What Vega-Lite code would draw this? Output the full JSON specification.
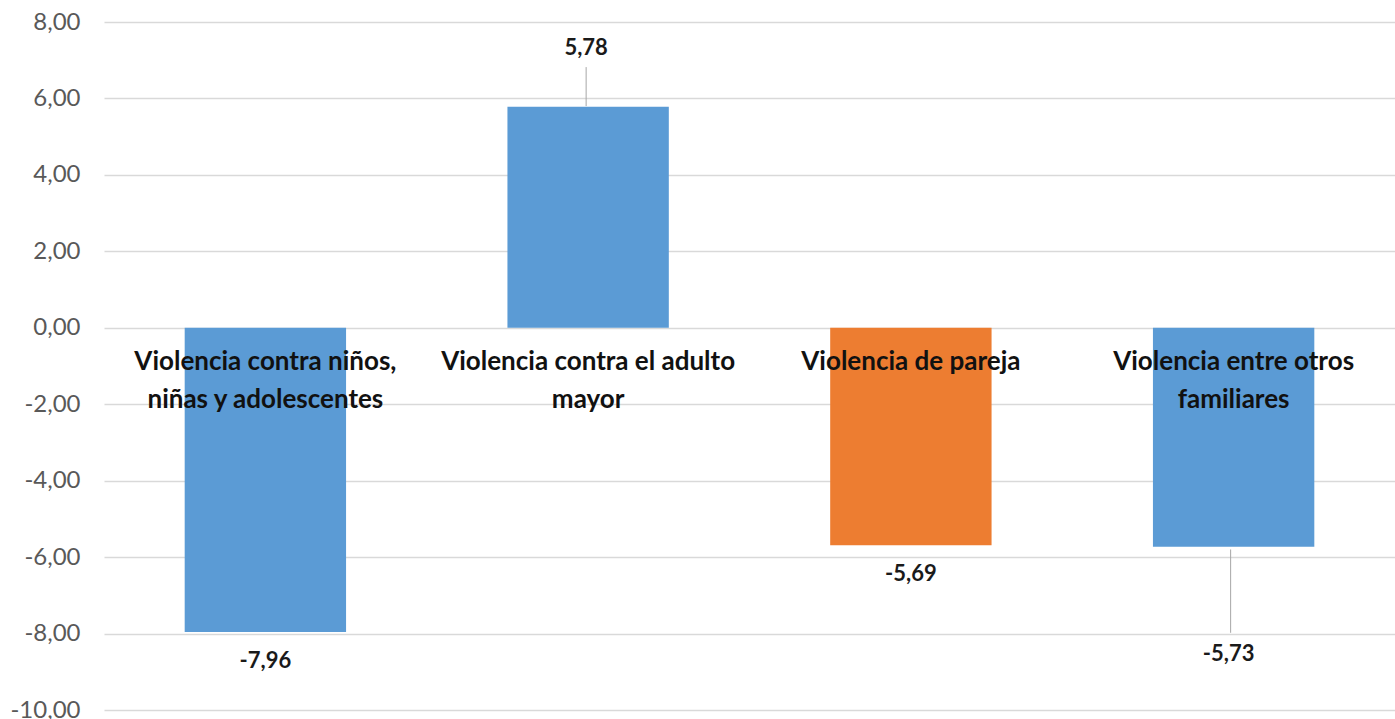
{
  "$schema": "https://vega.github.io/schema/vega-lite/v6.json",
  "autosize": {"type": "none"},
  "padding": {"left": 104, "top": 22, "right": 0, "bottom": 9},
  "width": 1291,
  "height": 688,
  "background": "#ffffff",
  "config": {
    "font": "Lato",
    "view": {"stroke": null},
    "locale": {"number": {"decimal": ",", "thousands": ".", "grouping": [3], "currency": ["", " €"], "minus": "-"}}
  },
  "data": {
    "values": [
      {"categoria": "Violencia contra niños, niñas y adolescentes", "etiqueta": "Violencia contra niños,\nniñas y adolescentes", "valor": -7.96},
      {"categoria": "Violencia contra el adulto mayor", "etiqueta": "Violencia contra el adulto\nmayor", "valor": 5.78},
      {"categoria": "Violencia de pareja", "etiqueta": "Violencia de pareja", "valor": -5.69},
      {"categoria": "Violencia entre otros familiares", "etiqueta": "Violencia entre otros\nfamiliares", "valor": -5.73}
    ]
  },
  "encoding": {
    "x": {
      "field": "categoria", "type": "nominal", "sort": null,
      "scale": {"paddingInner": 0.5, "paddingOuter": 0.25},
      "axis": null
    }
  },
  "layer": [
    {
      "mark": {"type": "bar"},
      "encoding": {
        "y": {
          "field": "valor", "type": "quantitative",
          "scale": {"domain": [-10, 8], "nice": false},
          "axis": {
            "title": null, "values": [-10, -8, -6, -4, -2, 0, 2, 4, 6, 8],
            "format": ".2f", "domain": false, "ticks": false,
            "labelPadding": 24, "labelFontSize": 24, "labelColor": "#595959",
            "labelFont": "Lato", "gridColor": "#D9D9D9", "gridWidth": 1.5
          }
        },
        "color": {
          "field": "categoria", "type": "nominal", "legend": null,
          "scale": {
            "domain": ["Violencia contra niños, niñas y adolescentes", "Violencia contra el adulto mayor", "Violencia de pareja", "Violencia entre otros familiares"],
            "range": ["#5B9BD5", "#5B9BD5", "#ED7D31", "#5B9BD5"]
          }
        }
      }
    },
    {
      "transform": [{"filter": "datum.valor == 5.78"}],
      "mark": {"type": "rule", "color": "#A6A6A6", "strokeWidth": 1, "xOffset": -2},
      "encoding": {"y": {"datum": 5.8}, "y2": {"datum": 6.82}}
    },
    {
      "transform": [{"filter": "datum.valor == -5.73"}],
      "mark": {"type": "rule", "color": "#A6A6A6", "strokeWidth": 1, "xOffset": -3},
      "encoding": {"y": {"datum": -5.8}, "y2": {"datum": -7.98}}
    },
    {
      "transform": [{"filter": "datum.valor == -7.96 || datum.valor == -5.69"}],
      "mark": {"type": "text", "fontSize": 22, "fontWeight": "bold", "color": "#1a1a1a", "baseline": "middle", "dy": 29},
      "encoding": {"y": {"field": "valor", "type": "quantitative"}, "text": {"field": "valor", "type": "quantitative", "format": ".2f"}}
    },
    {
      "transform": [{"filter": "datum.valor == 5.78"}],
      "mark": {"type": "text", "fontSize": 22, "fontWeight": "bold", "color": "#1a1a1a", "baseline": "middle", "dy": -59, "dx": -2},
      "encoding": {"y": {"field": "valor", "type": "quantitative"}, "text": {"field": "valor", "type": "quantitative", "format": ".2f"}}
    },
    {
      "transform": [{"filter": "datum.valor == -5.73"}],
      "mark": {"type": "text", "fontSize": 22, "fontWeight": "bold", "color": "#1a1a1a", "baseline": "middle", "dy": 107, "dx": -5},
      "encoding": {"y": {"field": "valor", "type": "quantitative"}, "text": {"field": "valor", "type": "quantitative", "format": ".2f"}}
    },
    {
      "mark": {"type": "text", "fontSize": 26, "fontWeight": "bold", "color": "#111111", "baseline": "top", "lineBreak": "\n", "lineHeight": 38, "dy": 21},
      "encoding": {"y": {"datum": 0}, "text": {"field": "etiqueta"}}
    }
  ]
}
